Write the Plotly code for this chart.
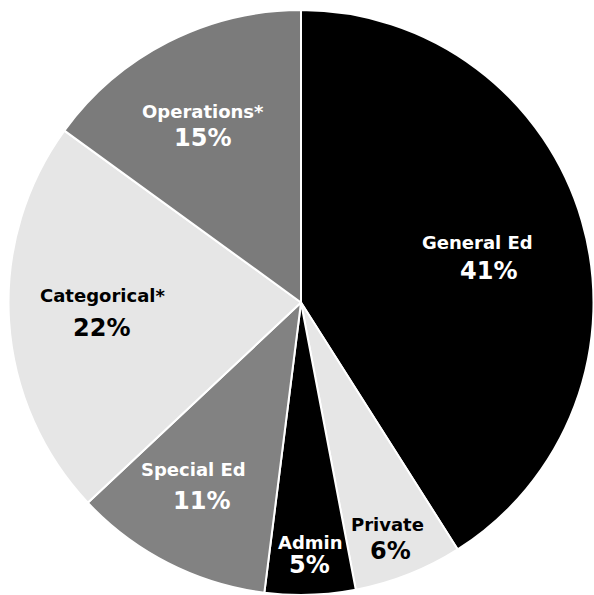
import plotly.graph_objects as go

W, H = 594, 595

categories = ["General Ed", "Private", "Admin", "Special Ed", "Categorical*", "Operations*"]
values = [41, 6, 5, 11, 22, 15]
colors = ["#000000", "#e6e6e6", "#000000", "#828282", "#e6e6e6", "#7b7b7b"]
text_colors = ["white", "black", "white", "white", "black", "white"]

# annotation anchor positions in pixels (name line, percent line)
name_pos = [(477, 242), (387, 524), (310, 542), (193, 469), (102, 295), (203, 111)]
pct_pos = [(488, 271), (390, 551), (309, 565), (201, 501), (101, 328), (202, 138)]

fig = go.Figure(go.Pie(
    labels=categories,
    values=values,
    sort=False,
    direction="clockwise",
    rotation=0,
    marker=dict(colors=colors, line=dict(color="white", width=2)),
    textinfo="none",
    hoverinfo="label+percent",
    domain=dict(x=[8 / W, 1], y=[0, (H - 10) / H]),
    showlegend=False,
))

FONT = "DejaVu Sans, sans-serif"
for i, cat in enumerate(categories):
    nx, ny = name_pos[i]
    px, py = pct_pos[i]
    fig.add_annotation(x=nx / W, y=1 - ny / H, xref="paper", yref="paper",
                       text=cat, showarrow=False, xanchor="center", yanchor="middle",
                       font=dict(family=FONT, size=18, color=text_colors[i], weight="bold"))
    fig.add_annotation(x=px / W, y=1 - py / H, xref="paper", yref="paper",
                       text=f"{values[i]}%", showarrow=False, xanchor="center", yanchor="middle",
                       font=dict(family=FONT, size=24, color=text_colors[i], weight="bold"))

fig.update_layout(width=W, height=H, margin=dict(l=0, r=0, t=0, b=0),
                  paper_bgcolor="white", plot_bgcolor="white")
fig.write_html("out.html")
